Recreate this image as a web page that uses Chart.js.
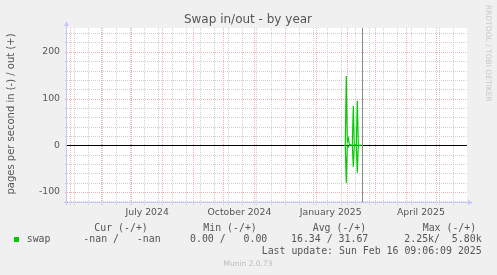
<!DOCTYPE html>
<html>
<head>
<meta charset="utf-8">
<title>Swap in/out - by year</title>
<script src="https://cdn.jsdelivr.net/npm/chart.js@4.4.1/dist/chart.umd.min.js"></script>
<style>
  html, body { margin: 0; padding: 0; background: #f0f0f0; }
  #wrap { width: 497px; height: 275px; }
</style>
</head>
<body>
<div id="wrap"><canvas id="swapChart" width="497" height="275"></canvas></div>
<script>
// ====== DATA (x = days counted from 1 May 2024) ======
const swapDays = [273.6, 274.6, 275.6, 276.6, 277.6, 278.6, 279.6, 280.6, 281.6,
                  282.6, 283.6, 284.6, 285.6, 286.6, 287.6, 288.6, 289.6, 290.6];
const swapOut  = [0, 0, 148, 8, 15, 2, 1, 0, 0, 84, 0, 1, 0, 95, 0, 0, 0, 0];
const swapIn   = [0, 0, -81, -2, -4, 0, 0, 0, 0, -46, 0, 0, 0, -59, 0, 0, 0, 0];

const xLabels    = ["July 2024", "October 2024", "January 2025", "April 2025"];
const xLabelDays = [77, 169, 260, 350];
const monthStarts = [0, 31, 61, 92, 123, 153, 184, 214, 245, 276, 304, 335, 365];
const minorDays = [4, 18, 32, 46, 60, 74, 88, 102, 116, 130, 144, 158, 172, 186,
                   200, 214, 228, 242, 256, 270, 284, 298, 312, 326, 340, 354, 368, 382];
const nowDay = 291.4;

const yLabels = [-100, 0, 100, 200];
const yMinor  = [-120, -80, -60, -40, -20, 20, 40, 60, 80, 120, 140, 160, 180, 220, 240];

const legendHead = [["Cur (-/+)", 94.3], ["Min (-/+)", 203.3], ["Avg (-/+)", 312.7], ["Max (-/+)", 422.7]];
const legendVals = [["-nan /   -nan", 83.3], ["0.00 /   0.00", 190], ["16.34 / 31.67", 291], ["2.25k/  5.80k", 404.3]];

const GREEN = "#00cc00";
const TEXT = "#555";

// ====== MUNIN LOOK ======
const muninPlugin = {
  id: "munin",
  beforeDraw(chart) {
    const { ctx, chartArea: a } = chart;
    ctx.save();
    ctx.fillStyle = "#f0f0f0";
    ctx.fillRect(0, 0, chart.width, chart.height);
    ctx.fillStyle = "#ffffff";
    ctx.fillRect(a.left, a.top, a.right - a.left, a.bottom - a.top);
    ctx.restore();
  },
  beforeDatasetsDraw(chart) {
    const { ctx, chartArea: a, scales: { x, y } } = chart;
    ctx.save();
    ctx.lineWidth = 1;
    ctx.setLineDash([1, 1]);

    const vline = (d, color) => {
      const px = Math.round(x.getPixelForValue(d)) + 0.5;
      ctx.strokeStyle = color;
      ctx.beginPath(); ctx.moveTo(px, a.top); ctx.lineTo(px, a.bottom + 3); ctx.stroke();
    };
    const hline = (v, color) => {
      const py = Math.round(y.getPixelForValue(v)) + 0.5;
      ctx.strokeStyle = color;
      ctx.beginPath(); ctx.moveTo(a.left - 2, py); ctx.lineTo(a.right, py); ctx.stroke();
    };

    minorDays.forEach(d => vline(d, "#cfcfcf"));
    yMinor.forEach(v => hline(v, "#cfcfcf"));
    monthStarts.forEach(d => vline(d, "#f0b2b2"));
    yLabels.forEach(v => hline(v, "#f0b2b2"));

    ctx.setLineDash([]);
    // zero line
    const zy = Math.round(y.getPixelForValue(0)) + 0.5;
    ctx.strokeStyle = "#000";
    ctx.beginPath(); ctx.moveTo(a.left, zy); ctx.lineTo(a.right, zy); ctx.stroke();
    // now line
    const nx = Math.round(x.getPixelForValue(nowDay)) + 0.5;
    ctx.strokeStyle = "#888";
    ctx.beginPath(); ctx.moveTo(nx, a.top); ctx.lineTo(nx, a.bottom); ctx.stroke();
    ctx.restore();
  },
  afterDraw(chart) {
    const { ctx, chartArea: a } = chart;
    ctx.save();

    // axes with arrows
    ctx.strokeStyle = "#c4c8f4";
    ctx.fillStyle = "#c4c8f4";
    ctx.lineWidth = 1;
    ctx.beginPath();
    ctx.moveTo(a.left - 0.5, a.bottom + 3); ctx.lineTo(a.left - 0.5, a.top - 3);
    ctx.moveTo(a.left - 3, a.bottom + 0.5); ctx.lineTo(a.right + 2, a.bottom + 0.5);
    ctx.stroke();
    ctx.beginPath();
    ctx.moveTo(a.left - 0.5, a.top - 7); ctx.lineTo(a.left - 3, a.top - 2); ctx.lineTo(a.left + 2, a.top - 2);
    ctx.closePath(); ctx.fill();
    ctx.beginPath();
    ctx.moveTo(a.right + 6, a.bottom + 0.5); ctx.lineTo(a.right + 1, a.bottom - 2); ctx.lineTo(a.right + 1, a.bottom + 3);
    ctx.closePath(); ctx.fill();

    // title
    ctx.fillStyle = TEXT;
    ctx.font = '12px "DejaVu Sans"';
    ctx.textAlign = "center";
    ctx.textBaseline = "middle";
    ctx.fillText("Swap in/out - by year", 248, 19.5);

    // y axis title
    ctx.save();
    ctx.translate(11, 114);
    ctx.rotate(-Math.PI / 2);
    ctx.font = '10px "DejaVu Sans"';
    ctx.fillText("pages per second in (-) / out (+)", 0, 0);
    ctx.restore();

    // rrdtool credit
    ctx.save();
    ctx.translate(488, 5);
    ctx.rotate(Math.PI / 2);
    ctx.fillStyle = "#c8c8c8";
    ctx.font = '7.5px "DejaVu Sans"';
    ctx.textAlign = "left";
    ctx.fillText("RRDTOOL / TOBI OETIKER", 0, 0);
    ctx.restore();

    // legend
    ctx.font = '9.9px "DejaVu Sans Mono"';
    ctx.textAlign = "left";
    ctx.fillStyle = TEXT;
    legendHead.forEach(([t, lx]) => ctx.fillText(t, lx, 228));
    ctx.fillText("swap", 26.7, 239.5);
    legendVals.forEach(([t, lx]) => ctx.fillText(t, lx, 239.5));
    ctx.fillText("Last update: Sun Feb 16 09:06:09 2025", 261.7, 251.7);
    ctx.fillStyle = GREEN;
    ctx.fillRect(14, 237, 5, 5);

    ctx.fillStyle = "#bbbbbb";
    ctx.font = '7.5px "DejaVu Sans"';
    ctx.textAlign = "center";
    ctx.fillText("Munin 2.0.73", 248, 264.3);
    ctx.restore();
  }
};

// ====== CHART ======
const ctx = document.getElementById("swapChart").getContext("2d");
const chart = new Chart(ctx, {
  type: "line",
  data: {
    datasets: [
      {
        label: "swap out",
        data: swapDays.map((d, i) => ({ x: d, y: swapOut[i] })),
        borderColor: GREEN,
        borderWidth: 1.2,
        pointRadius: 0,
        tension: 0
      },
      {
        label: "swap in",
        data: swapDays.map((d, i) => ({ x: d, y: swapIn[i] })),
        borderColor: GREEN,
        borderWidth: 1.2,
        pointRadius: 0,
        tension: 0
      }
    ]
  },
  options: {
    responsive: false,
    animation: false,
    devicePixelRatio: 1,
    layout: { padding: { top: 28, right: 30, left: 0, bottom: 0 } },
    plugins: {
      legend: { display: false },
      tooltip: { enabled: false }
    },
    scales: {
      x: {
        type: "linear",
        min: -3,
        max: 396,
        grid: { display: false, drawTicks: false },
        border: { display: false },
        afterBuildTicks: s => { s.ticks = xLabelDays.map(v => ({ value: v })); },
        afterFit: s => { s.height = 73; },
        ticks: {
          autoSkip: false,
          maxRotation: 0,
          padding: 5,
          color: TEXT,
          font: { family: "DejaVu Sans", size: 9.3 },
          callback: (v, i) => xLabels[i]
        }
      },
      y: {
        min: -121.5,
        max: 251,
        grid: { display: false, drawTicks: false },
        border: { display: false },
        afterBuildTicks: s => { s.ticks = yLabels.map(v => ({ value: v })); },
        afterFit: s => { s.width = 67; },
        ticks: {
          padding: 7,
          color: TEXT,
          font: { family: "DejaVu Sans", size: 9.3 },
          callback: v => String(v)
        }
      }
    }
  },
  plugins: [muninPlugin]
});
</script>
</body>
</html>
